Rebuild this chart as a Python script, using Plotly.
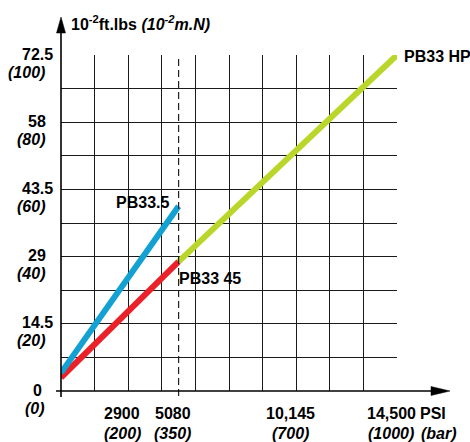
import plotly.graph_objects as go

# ---- data ----
pressure_bar = [0, 350]                 # bar
pb335_torque = [5.4, 55.0]              # 10^-2 m.N
pb3345_torque = [4.0, 38.5]             # 10^-2 m.N
pbhp_pressure = [350, 1000]             # bar
pbhp_torque = [38.5, 100.0]             # 10^-2 m.N

y_ticks_mn = [0, 20, 40, 60, 80, 100]
y_labels_ftlbs = ["0", "14.5", "29", "43.5", "58", "72.5"]
y_labels_mn = ["(0)", "(20)", "(40)", "(60)", "(80)", "(100)"]

x_ticks_bar = [200, 350, 700, 1000]
x_labels_psi = ["2900", "5080", "10,145", "14,500"]
x_labels_bar = ["(200)", "(350)", "(700)", "(1000)"]

grid_x = list(range(0, 1001, 100))
grid_y = list(range(0, 101, 10))

# ---- styles ----
FONT = "Liberation Sans, Arial, Helvetica, sans-serif"
FS = 16
BLUE = "#13a0d2"
RED = "#ea2129"
GREEN = "#bad62a"
W, H = 470, 442
L, R, T, B = 61, 397, 55, 391   # plot area in pixels
PW, PH = R - L, B - T


def px(xp):
    return (xp - L) / PW


def py(yp):
    return (B - yp) / PH


fig = go.Figure()
fig.add_trace(go.Scatter(x=pressure_bar, y=pb3345_torque, mode="lines",
                         line=dict(color=RED, width=6), hoverinfo="skip"))
fig.add_trace(go.Scatter(x=pbhp_pressure, y=pbhp_torque, mode="lines",
                         line=dict(color=GREEN, width=6), hoverinfo="skip"))
fig.add_trace(go.Scatter(x=pressure_bar, y=pb335_torque, mode="lines",
                         line=dict(color=BLUE, width=6), hoverinfo="skip"))

shapes = []
# dashed line at 350 bar
shapes.append(dict(type="line", xref="x", yref="paper", x0=350, x1=350,
                   y0=py(396), y1=1, line=dict(color="#222", width=1.2, dash="7px,4px")))
# x axis
shapes.append(dict(type="line", xref="paper", yref="paper", x0=px(56), x1=px(434),
                   y0=0, y1=0, line=dict(color="black", width=1.6)))
shapes.append(dict(type="path", xref="paper", yref="paper",
                   path=f"M {px(431)} {py(386.5)} L {px(450)} {py(391)} L {px(431)} {py(395.5)} Z",
                   fillcolor="black", line=dict(color="black", width=0.5)))
# y axis
shapes.append(dict(type="line", xref="paper", yref="paper", x0=0, x1=0,
                   y0=py(397), y1=py(31), line=dict(color="black", width=1.6)))
shapes.append(dict(type="path", xref="paper", yref="paper",
                   path=f"M {px(56.5)} {py(33)} L {px(61)} {py(17)} L {px(65.5)} {py(33)} Z",
                   fillcolor="black", line=dict(color="black", width=0.5)))

ann = []
bold = dict(family=FONT, size=FS, color="black")
# axis title
ann.append(dict(xref="paper", yref="paper", x=px(69), y=py(23), xanchor="left", yanchor="middle",
                text="<b>10<sup>-2</sup>ft.lbs <i>(10<sup>-2</sup>m.N)</i></b>",
                showarrow=False, font=bold))
# y tick labels
for v, a, b in zip(y_ticks_mn, y_labels_ftlbs, y_labels_mn):
    ann.append(dict(xref="paper", yref="y", x=px(37), y=v, xanchor="center", yanchor="middle",
                    yshift=1, text=f"<b>{a}</b>", showarrow=False, font=bold))
    ann.append(dict(xref="paper", yref="y", x=px(47), y=v, xanchor="right", yanchor="middle",
                    yshift=-17, text=f"<b><i>{b}</i></b>", showarrow=False, font=bold))
# x tick labels
for v, a, b in zip(x_ticks_bar, x_labels_psi, x_labels_bar):
    ann.append(dict(xref="x", yref="paper", x=v, y=py(413), xanchor="center", yanchor="middle",
                    xshift=-6, text=f"<b>{a}</b>", showarrow=False, font=bold))
    ann.append(dict(xref="x", yref="paper", x=v, y=py(433), xanchor="center", yanchor="middle",
                    xshift=-6, text=f"<b><i>{b}</i></b>", showarrow=False, font=bold))
ann.append(dict(xref="paper", yref="paper", x=px(418), y=py(413), xanchor="left", yanchor="middle",
                text="<b>PSI</b>", showarrow=False, font=bold))
ann.append(dict(xref="paper", yref="paper", x=px(419), y=py(433), xanchor="left", yanchor="middle",
                text="<b><i>(bar)</i></b>", showarrow=False, font=bold))
# series labels
ann.append(dict(xref="x", yref="y", x=pressure_bar[-1], y=pb335_torque[-1], xanchor="right",
                yanchor="middle", xshift=-8, yshift=4, text="<b>PB33.5</b>", showarrow=False, font=bold))
ann.append(dict(xref="x", yref="y", x=pressure_bar[-1], y=pb3345_torque[-1], xanchor="left",
                yanchor="middle", xshift=-2, yshift=-17, text="<b>PB33 45</b>", showarrow=False, font=bold))
ann.append(dict(xref="x", yref="y", x=pbhp_pressure[-1], y=pbhp_torque[-1], xanchor="left",
                yanchor="middle", xshift=5, yshift=-1, text="<b>PB33 HP</b>", showarrow=False, font=bold))

fig.update_layout(
    width=W, height=H,
    margin=dict(l=L, r=W - R, t=T, b=H - B, pad=0),
    paper_bgcolor="white", plot_bgcolor="white",
    showlegend=False,
    shapes=shapes, annotations=ann,
    font=dict(family=FONT, size=FS, color="black"),
    xaxis=dict(range=[0, 1000], tickvals=grid_x, showticklabels=False, ticks="",
               showgrid=True, gridcolor="#1a1a1a", gridwidth=1, zeroline=False,
               showline=False, fixedrange=True, automargin=False),
    yaxis=dict(range=[0, 100], tickvals=grid_y, showticklabels=False, ticks="",
               showgrid=True, gridcolor="#1a1a1a", gridwidth=1, zeroline=False,
               showline=False, fixedrange=True, automargin=False),
)

fig.write_html("out.html", config={"displayModeBar": False},
               post_script="document.body.style.margin='0';document.body.style.overflow='hidden';")
